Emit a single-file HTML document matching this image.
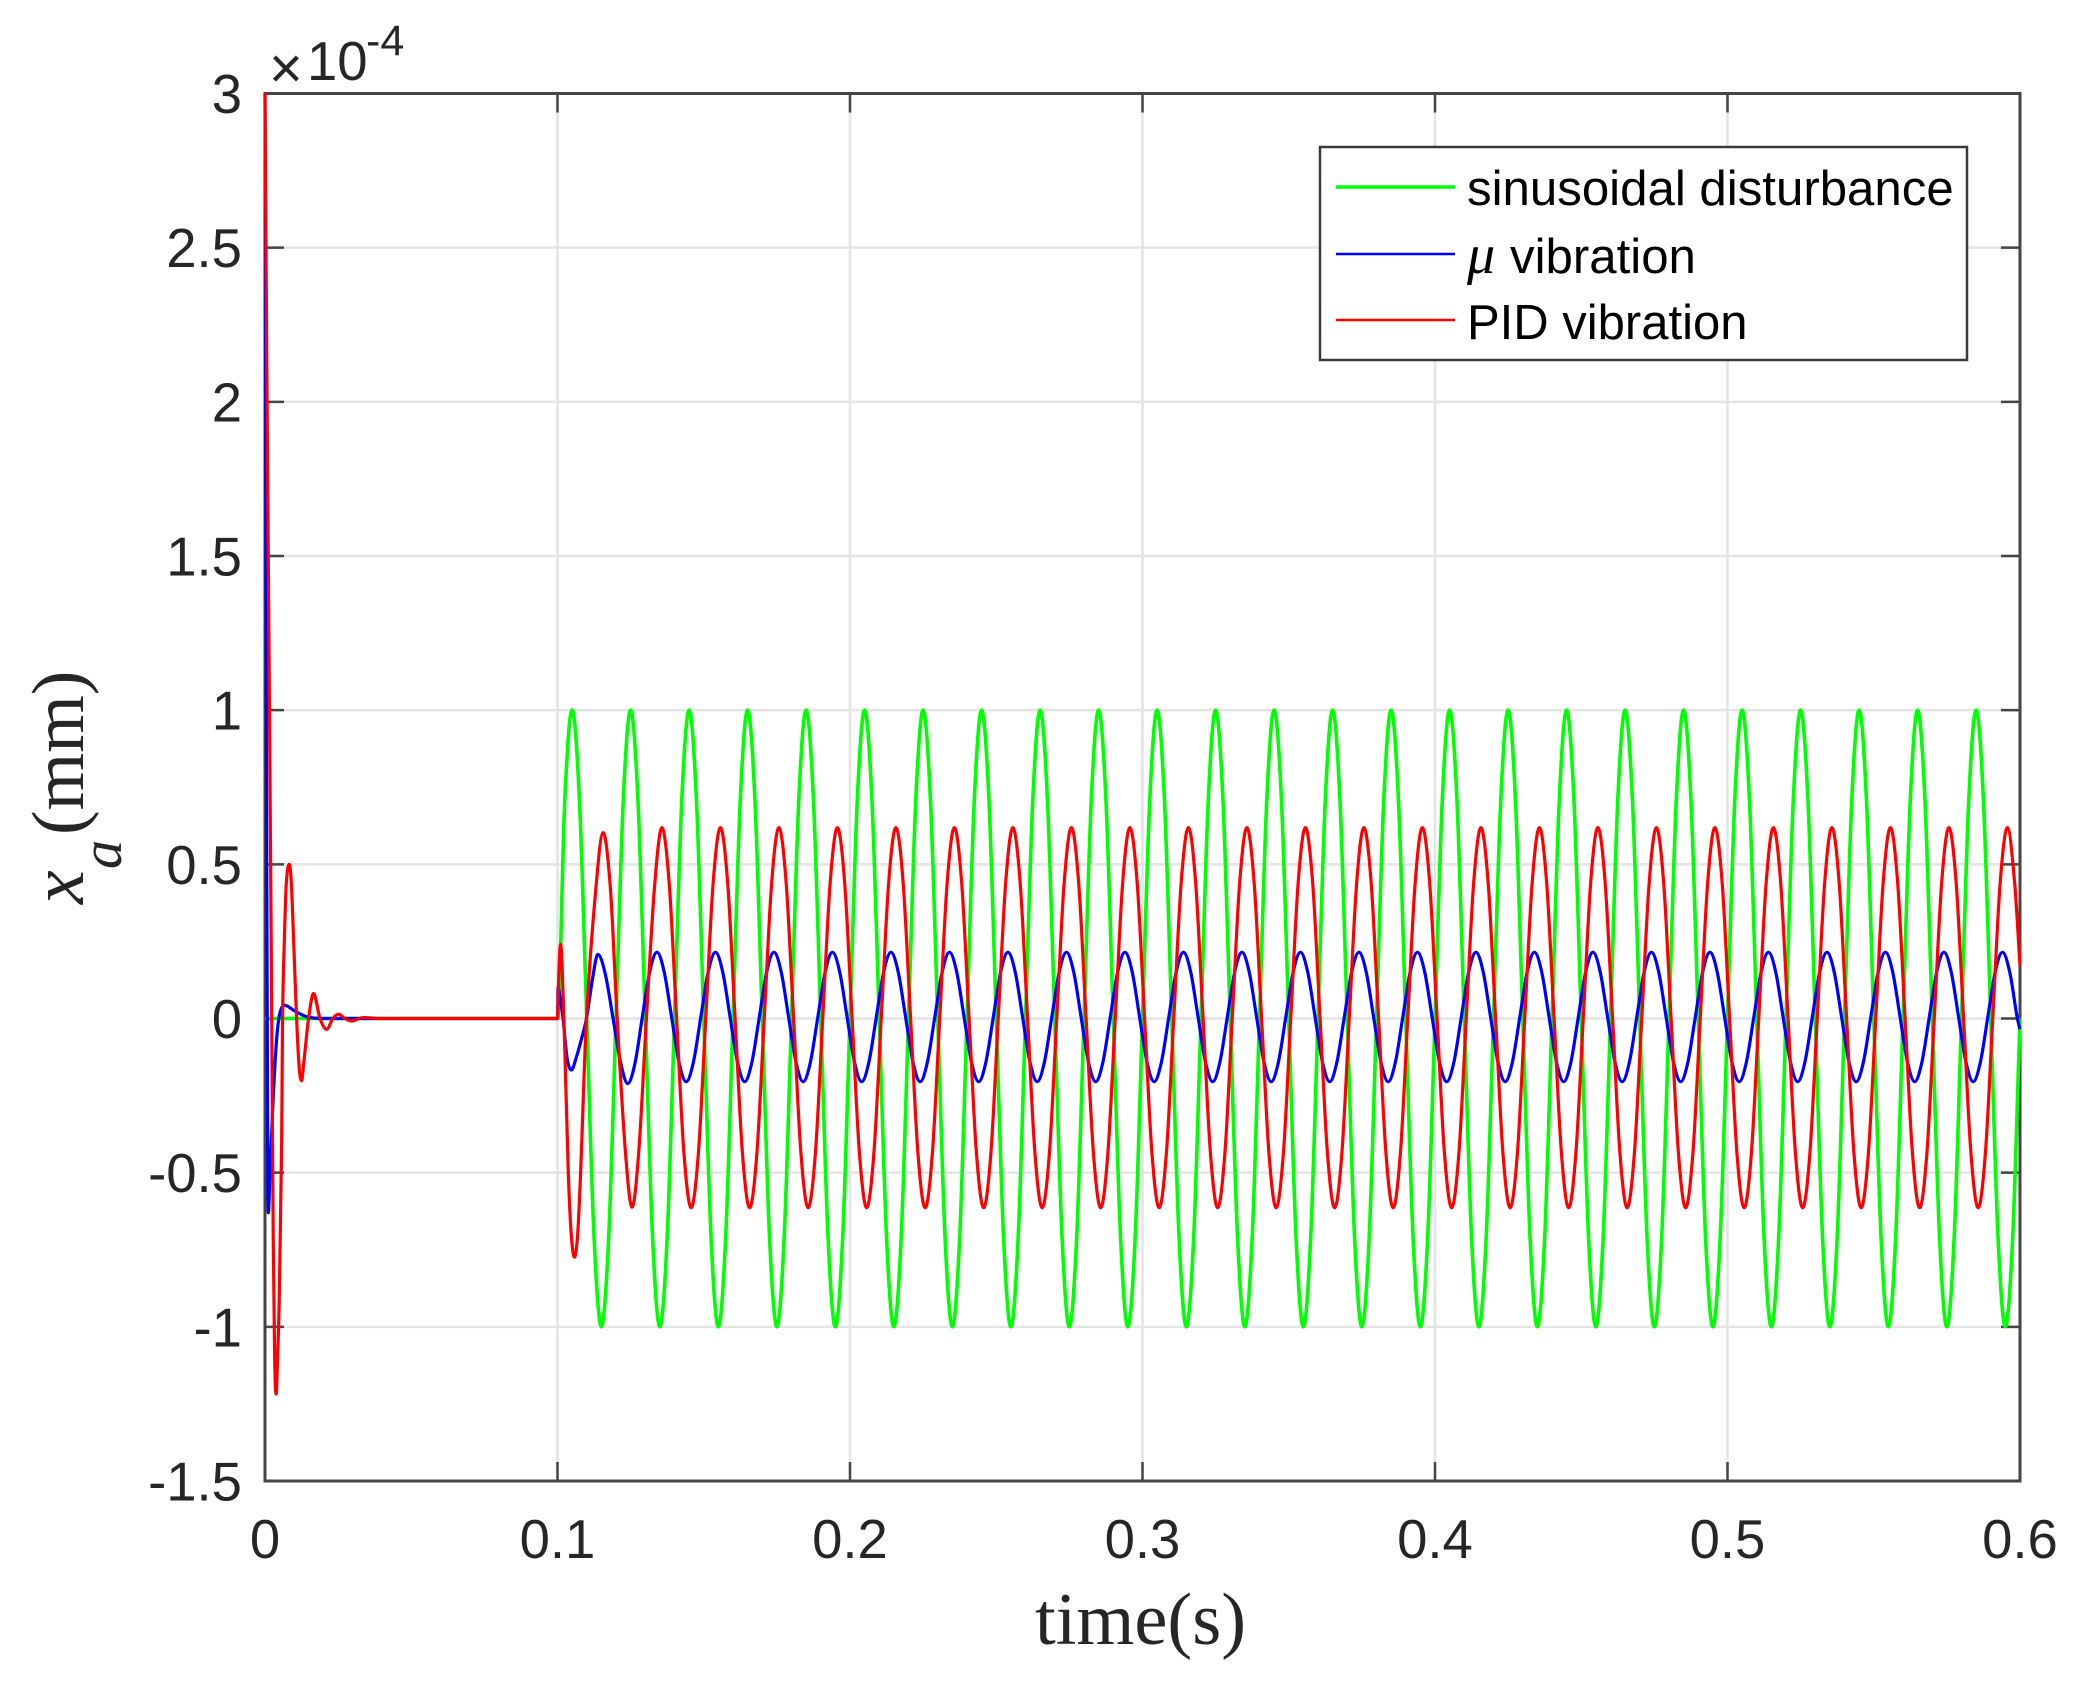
<!DOCTYPE html>
<html>
<head>
<meta charset="utf-8">
<title>Vibration response chart</title>
<style>
html,body{margin:0;padding:0;background:#fff;}
svg{display:block;}
text{font-family:"Liberation Sans",sans-serif;}
.serif{font-family:"Liberation Serif",serif;fill:#262626;}
</style>
</head>
<body>
<svg id="chart" xmlns="http://www.w3.org/2000/svg" width="2084" height="1688" viewBox="0 0 2084 1688">
<rect x="0" y="0" width="2084" height="1688" fill="#ffffff"/>
<g id="grid"></g>
<g id="axes"></g>
<g id="series"></g>
<text x="269" y="88" font-size="58" fill="#262626">×</text>
<text x="307" y="80" font-size="54.5" fill="#262626">10</text>
<text x="366" y="55" font-size="43" fill="#262626">-4</text>
<text class="serif" x="1035" y="1644" font-size="74.5">time(s)</text>
<g transform="translate(83,904) rotate(-90)">
<text class="serif" x="0" y="0" font-size="76" font-style="italic">x</text>
<text class="serif" x="35" y="38" font-size="58" font-style="italic">a</text>
<text class="serif" x="69" y="0" font-size="74">(mm)</text>
</g>
<g>
<rect x="1320" y="147" width="647" height="213" fill="#ffffff" stroke="#3a3a3a" stroke-width="2.5"/>
<line x1="1336" y1="187" x2="1455" y2="187" stroke="#00ff00" stroke-width="3.5"/>
<text x="1467" y="205" font-size="49.2" fill="#000000">sinusoidal disturbance</text>
<line x1="1336" y1="254" x2="1455" y2="254" stroke="#0000ff" stroke-width="2.6"/>
<text x="1467" y="273" font-size="56" fill="#000000" style="font-family:'Liberation Serif',serif;font-style:italic">μ</text>
<text x="1510" y="273" font-size="49.2" fill="#000000">vibration</text>
<line x1="1336" y1="320" x2="1455" y2="320" stroke="#ff0000" stroke-width="2.6"/>
<text x="1467" y="339" font-size="49" fill="#000000">PID vibration</text>
</g>
</svg>
<script>
const xTickValues = [0, 0.1, 0.2, 0.3, 0.4, 0.5, 0.6];
const xTickLabels = ["0", "0.1", "0.2", "0.3", "0.4", "0.5", "0.6"];
const yTickValues = [-1.5, -1, -0.5, 0, 0.5, 1, 1.5, 2, 2.5, 3];
const yTickLabels = ["-1.5", "-1", "-0.5", "0", "0.5", "1", "1.5", "2", "2.5", "3"];

const greenTimes = [0, 0.05,
0.1000,0.1025,0.1050,0.1075,0.1100,0.1125,0.1150,0.1175,
0.1200,0.1225,0.1250,0.1275,0.1300,0.1325,0.1350,0.1375,
0.1400,0.1425,0.1450,0.1475,0.1500,0.1525,0.1550,0.1575,
0.1600,0.1625,0.1650,0.1675,0.1700,0.1725,0.1750,0.1775,
0.1800,0.1825,0.1850,0.1875,0.1900,0.1925,0.1950,0.1975,
0.2000,0.2025,0.2050,0.2075,0.2100,0.2125,0.2150,0.2175,
0.2200,0.2225,0.2250,0.2275,0.2300,0.2325,0.2350,0.2375,
0.2400,0.2425,0.2450,0.2475,0.2500,0.2525,0.2550,0.2575,
0.2600,0.2625,0.2650,0.2675,0.2700,0.2725,0.2750,0.2775,
0.2800,0.2825,0.2850,0.2875,0.2900,0.2925,0.2950,0.2975,
0.3000,0.3025,0.3050,0.3075,0.3100,0.3125,0.3150,0.3175,
0.3200,0.3225,0.3250,0.3275,0.3300,0.3325,0.3350,0.3375,
0.3400,0.3425,0.3450,0.3475,0.3500,0.3525,0.3550,0.3575,
0.3600,0.3625,0.3650,0.3675,0.3700,0.3725,0.3750,0.3775,
0.3800,0.3825,0.3850,0.3875,0.3900,0.3925,0.3950,0.3975,
0.4000,0.4025,0.4050,0.4075,0.4100,0.4125,0.4150,0.4175,
0.4200,0.4225,0.4250,0.4275,0.4300,0.4325,0.4350,0.4375,
0.4400,0.4425,0.4450,0.4475,0.4500,0.4525,0.4550,0.4575,
0.4600,0.4625,0.4650,0.4675,0.4700,0.4725,0.4750,0.4775,
0.4800,0.4825,0.4850,0.4875,0.4900,0.4925,0.4950,0.4975,
0.5000,0.5025,0.5050,0.5075,0.5100,0.5125,0.5150,0.5175,
0.5200,0.5225,0.5250,0.5275,0.5300,0.5325,0.5350,0.5375,
0.5400,0.5425,0.5450,0.5475,0.5500,0.5525,0.5550,0.5575,
0.5600,0.5625,0.5650,0.5675,0.5700,0.5725,0.5750,0.5775,
0.5800,0.5825,0.5850,0.5875,0.5900,0.5925,0.5950,0.5975,
0.6000];
const greenValues = [0, 0,
0,.71,1,.71,0,-.71,-1,-.71,
0,.71,1,.71,0,-.71,-1,-.71,
0,.71,1,.71,0,-.71,-1,-.71,
0,.71,1,.71,0,-.71,-1,-.71,
0,.71,1,.71,0,-.71,-1,-.71,
0,.71,1,.71,0,-.71,-1,-.71,
0,.71,1,.71,0,-.71,-1,-.71,
0,.71,1,.71,0,-.71,-1,-.71,
0,.71,1,.71,0,-.71,-1,-.71,
0,.71,1,.71,0,-.71,-1,-.71,
0,.71,1,.71,0,-.71,-1,-.71,
0,.71,1,.71,0,-.71,-1,-.71,
0,.71,1,.71,0,-.71,-1,-.71,
0,.71,1,.71,0,-.71,-1,-.71,
0,.71,1,.71,0,-.71,-1,-.71,
0,.71,1,.71,0,-.71,-1,-.71,
0,.71,1,.71,0,-.71,-1,-.71,
0,.71,1,.71,0,-.71,-1,-.71,
0,.71,1,.71,0,-.71,-1,-.71,
0,.71,1,.71,0,-.71,-1,-.71,
0,.71,1,.71,0,-.71,-1,-.71,
0,.71,1,.71,0,-.71,-1,-.71,
0,.71,1,.71,0,-.71,-1,-.71,
0,.71,1,.71,0,-.71,-1,-.71,
0,.71,1,.71,0,-.71,-1,-.71,
0];

const blueTimes = [0,.0003,.0006,.0009,.00114,.0017,.00285,.004,.0051,.0068,.0097,.0142,.02,.05,.1,
.1002,.101,.1019,.1033,.1048,.1063,.1081,.1099,.112,.1138,.1163,.119,.1215,.124,.1265,.129,.1315,
.1340,.1365,.1390,.1415,.1440,.1465,.1490,.1515,
.1540,.1565,.1590,.1615,.1640,.1665,.1690,.1715,
.1740,.1765,.1790,.1815,.1840,.1865,.1890,.1915,
.1940,.1965,.1990,.2015,.2040,.2065,.2090,.2115,
.2140,.2165,.2190,.2215,.2240,.2265,.2290,.2315,
.2340,.2365,.2390,.2415,.2440,.2465,.2490,.2515,
.2540,.2565,.2590,.2615,.2640,.2665,.2690,.2715,
.2740,.2765,.2790,.2815,.2840,.2865,.2890,.2915,
.2940,.2965,.2990,.3015,.3040,.3065,.3090,.3115,
.3140,.3165,.3190,.3215,.3240,.3265,.3290,.3315,
.3340,.3365,.3390,.3415,.3440,.3465,.3490,.3515,
.3540,.3565,.3590,.3615,.3640,.3665,.3690,.3715,
.3740,.3765,.3790,.3815,.3840,.3865,.3890,.3915,
.3940,.3965,.3990,.4015,.4040,.4065,.4090,.4115,
.4140,.4165,.4190,.4215,.4240,.4265,.4290,.4315,
.4340,.4365,.4390,.4415,.4440,.4465,.4490,.4515,
.4540,.4565,.4590,.4615,.4640,.4665,.4690,.4715,
.4740,.4765,.4790,.4815,.4840,.4865,.4890,.4915,
.4940,.4965,.4990,.5015,.5040,.5065,.5090,.5115,
.5140,.5165,.5190,.5215,.5240,.5265,.5290,.5315,
.5340,.5365,.5390,.5415,.5440,.5465,.5490,.5515,
.5540,.5565,.5590,.5615,.5640,.5665,.5690,.5715,
.5740,.5765,.5790,.5815,.5840,.5865,.5890,.5915,
.5940,.5965,.5990,.6000];
const blueValues = [3,1.6,.5,-.35,-.63,-.5,-.248,-.064,.018,.043,.027,.006,0,0,0,
.1,.06,0,-.13,-.167,-.13,-.07,0,.13,.208,.146,0,-.14,-.211,-.145,.005,.15,
.215,.15,.005,-.14,-.205,-.14,.005,.15, /* .134 */
.215,.15,.005,-.14,-.205,-.14,.005,.15, /* .154 */
.215,.15,.005,-.14,-.205,-.14,.005,.15, /* .174 */
.215,.15,.005,-.14,-.205,-.14,.005,.15, /* .194 */
.215,.15,.005,-.14,-.205,-.14,.005,.15, /* .214 */
.215,.15,.005,-.14,-.205,-.14,.005,.15, /* .234 */
.215,.15,.005,-.14,-.205,-.14,.005,.15, /* .254 */
.215,.15,.005,-.14,-.205,-.14,.005,.15, /* .274 */
.215,.15,.005,-.14,-.205,-.14,.005,.15, /* .294 */
.215,.15,.005,-.14,-.205,-.14,.005,.15, /* .314 */
.215,.15,.005,-.14,-.205,-.14,.005,.15, /* .334 */
.215,.15,.005,-.14,-.205,-.14,.005,.15, /* .354 */
.215,.15,.005,-.14,-.205,-.14,.005,.15, /* .374 */
.215,.15,.005,-.14,-.205,-.14,.005,.15, /* .394 */
.215,.15,.005,-.14,-.205,-.14,.005,.15, /* .414 */
.215,.15,.005,-.14,-.205,-.14,.005,.15, /* .434 */
.215,.15,.005,-.14,-.205,-.14,.005,.15, /* .454 */
.215,.15,.005,-.14,-.205,-.14,.005,.15, /* .474 */
.215,.15,.005,-.14,-.205,-.14,.005,.15, /* .494 */
.215,.15,.005,-.14,-.205,-.14,.005,.15, /* .514 */
.215,.15,.005,-.14,-.205,-.14,.005,.15, /* .534 */
.215,.15,.005,-.14,-.205,-.14,.005,.15, /* .554 */
.215,.15,.005,-.14,-.205,-.14,.005,.15, /* .574 */
.215,.15,.005,-.035];

const redTimes = [0,.0006,.0017,.0023,.0028,.0033,.0038,.0043,.0049,.0057,.0060,.0066,.0073,.0083,.0090,.0098,.0108,.0117,.0125,.0133,.0149,.0166,.0188,.0211,.0232,.0251,.0273,.0296,.0336,.04,.07,.1,
.1004,.1008,.1011,.1015,.1022,.1037,.1047,.1058,.1069,.1079,.1099,.1131,.1156,.1181,.1204,.1232,.1255,.1278,.1304,.1332,
.1357,.1382,.1407,.1432,.1457,.1482,.1507,.1532,
.1557,.1582,.1607,.1632,.1657,.1682,.1707,.1732,
.1757,.1782,.1807,.1832,.1857,.1882,.1907,.1932,
.1957,.1982,.2007,.2032,.2057,.2082,.2107,.2132,
.2157,.2182,.2207,.2232,.2257,.2282,.2307,.2332,
.2357,.2382,.2407,.2432,.2457,.2482,.2507,.2532,
.2557,.2582,.2607,.2632,.2657,.2682,.2707,.2732,
.2757,.2782,.2807,.2832,.2857,.2882,.2907,.2932,
.2957,.2982,.3007,.3032,.3057,.3082,.3107,.3132,
.3157,.3182,.3207,.3232,.3257,.3282,.3307,.3332,
.3357,.3382,.3407,.3432,.3457,.3482,.3507,.3532,
.3557,.3582,.3607,.3632,.3657,.3682,.3707,.3732,
.3757,.3782,.3807,.3832,.3857,.3882,.3907,.3932,
.3957,.3982,.4007,.4032,.4057,.4082,.4107,.4132,
.4157,.4182,.4207,.4232,.4257,.4282,.4307,.4332,
.4357,.4382,.4407,.4432,.4457,.4482,.4507,.4532,
.4557,.4582,.4607,.4632,.4657,.4682,.4707,.4732,
.4757,.4782,.4807,.4832,.4857,.4882,.4907,.4932,
.4957,.4982,.5007,.5032,.5057,.5082,.5107,.5132,
.5157,.5182,.5207,.5232,.5257,.5282,.5307,.5332,
.5357,.5382,.5407,.5432,.5457,.5482,.5507,.5532,
.5557,.5582,.5607,.5632,.5657,.5682,.5707,.5732,
.5757,.5782,.5807,.5832,.5857,.5882,.5907,.5932,
.5957,.5982,.6000];
const redValues = [3,2.14,.8,0,-.7,-1.1,-1.218,-1.1,-.9,-.4,0,.25,.44,.5,.44,.25,0,-.16,-.202,-.14,0,.081,0,-.035,0,.014,0,-.008,.003,0,0,0,
.13,.22,.24,.19,0,-.5,-.7,-.774,-.7,-.5,0,.42,.603,.42,0,-.43,-.612,-.43,0,.43,
.619,.437,.003,-.433,-.614,-.433,.003,.437,
.619,.437,.003,-.433,-.614,-.433,.003,.437,
.619,.437,.003,-.433,-.614,-.433,.003,.437,
.619,.437,.003,-.433,-.614,-.433,.003,.437,
.619,.437,.003,-.433,-.614,-.433,.003,.437,
.619,.437,.003,-.433,-.614,-.433,.003,.437,
.619,.437,.003,-.433,-.614,-.433,.003,.437,
.619,.437,.003,-.433,-.614,-.433,.003,.437,
.619,.437,.003,-.433,-.614,-.433,.003,.437,
.619,.437,.003,-.433,-.614,-.433,.003,.437,
.619,.437,.003,-.433,-.614,-.433,.003,.437,
.619,.437,.003,-.433,-.614,-.433,.003,.437,
.619,.437,.003,-.433,-.614,-.433,.003,.437,
.619,.437,.003,-.433,-.614,-.433,.003,.437,
.619,.437,.003,-.433,-.614,-.433,.003,.437,
.619,.437,.003,-.433,-.614,-.433,.003,.437,
.619,.437,.003,-.433,-.614,-.433,.003,.437,
.619,.437,.003,-.433,-.614,-.433,.003,.437,
.619,.437,.003,-.433,-.614,-.433,.003,.437,
.619,.437,.003,-.433,-.614,-.433,.003,.437,
.619,.437,.003,-.433,-.614,-.433,.003,.437,
.619,.437,.003,-.433,-.614,-.433,.003,.437,
.619,.437,.003,-.433,-.614,-.433,.003,.437,
.619,.437,.17];

const plotLeft = 265, plotRight = 2020, plotTop = 93.5, plotBottom = 1481;
const xDomainMin = 0, xDomainMax = 0.6, yDomainMin = -1.5, yDomainMax = 3;
const tickLength = 19;
const SVGNS = "http://www.w3.org/2000/svg";

function xScale(t) {
  return plotLeft + (t - xDomainMin) / (xDomainMax - xDomainMin) * (plotRight - plotLeft);
}
function yScale(v) {
  return plotBottom - (v - yDomainMin) / (yDomainMax - yDomainMin) * (plotBottom - plotTop);
}
function makeLine(parent, x1, y1, x2, y2, color, width) {
  const line = document.createElementNS(SVGNS, "line");
  line.setAttribute("x1", x1);
  line.setAttribute("y1", y1);
  line.setAttribute("x2", x2);
  line.setAttribute("y2", y2);
  line.setAttribute("stroke", color);
  line.setAttribute("stroke-width", width);
  parent.appendChild(line);
  return line;
}
function makeLabel(parent, x, y, anchor, content) {
  const label = document.createElementNS(SVGNS, "text");
  label.setAttribute("x", x);
  label.setAttribute("y", y);
  label.setAttribute("text-anchor", anchor);
  label.setAttribute("font-size", "54.5");
  label.setAttribute("fill", "#262626");
  label.textContent = content;
  parent.appendChild(label);
  return label;
}
function smoothPath(times, values) {
  const n = Math.min(times.length, values.length);
  const px = times.slice(0, n).map(xScale);
  const py = values.slice(0, n).map(yScale);
  const slopes = [];
  for (let i = 0; i < n - 1; i++) {
    slopes.push((py[i + 1] - py[i]) / (px[i + 1] - px[i]));
  }
  const tangents = [];
  for (let i = 0; i < n; i++) {
    if (i === 0) { tangents.push(slopes[0]); continue; }
    if (i === n - 1) { tangents.push(slopes[n - 2]); continue; }
    const a = slopes[i - 1], b = slopes[i];
    if (a * b <= 0) { tangents.push(0); continue; }
    const central = (py[i + 1] - py[i - 1]) / (px[i + 1] - px[i - 1]);
    const limit = 3 * Math.min(Math.abs(a), Math.abs(b));
    tangents.push(Math.sign(central) * Math.min(Math.abs(central), limit));
  }
  let d = "M" + px[0].toFixed(2) + " " + py[0].toFixed(2);
  for (let i = 0; i < n - 1; i++) {
    const h = (px[i + 1] - px[i]) / 3;
    d += "C" + (px[i] + h).toFixed(2) + " " + (py[i] + tangents[i] * h).toFixed(2) + " "
      + (px[i + 1] - h).toFixed(2) + " " + (py[i + 1] - tangents[i + 1] * h).toFixed(2) + " "
      + px[i + 1].toFixed(2) + " " + py[i + 1].toFixed(2);
  }
  return d;
}
function makeSeries(parent, times, values, color, width) {
  const path = document.createElementNS(SVGNS, "path");
  path.setAttribute("d", smoothPath(times, values));
  path.setAttribute("fill", "none");
  path.setAttribute("stroke", color);
  path.setAttribute("stroke-width", width);
  path.setAttribute("stroke-linejoin", "round");
  parent.appendChild(path);
  return path;
}

const gridGroup = document.getElementById("grid");
const axesGroup = document.getElementById("axes");
const seriesGroup = document.getElementById("series");
const gridColor = "#e4e4e4", axisColor = "#454545";

xTickValues.forEach(function (value, i) {
  const x = xScale(value);
  if (value > xDomainMin && value < xDomainMax) {
    const gridLine = makeLine(gridGroup, x, plotTop, x, plotBottom, gridColor, 2.5);
    
    
  }
  const bottomTick = makeLine(axesGroup, x, plotBottom, x, plotBottom - tickLength, axisColor, 2.5);
  
  
  const topTick = makeLine(axesGroup, x, plotTop, x, plotTop + tickLength, axisColor, 2.5);
  
  
  const xLabel = makeLabel(axesGroup, x, 1558, "middle", xTickLabels[i]);
  
  
});

yTickValues.forEach(function (value, i) {
  const y = yScale(value);
  if (value > yDomainMin && value < yDomainMax) {
    const gridLine = makeLine(gridGroup, plotLeft, y, plotRight, y, gridColor, 2.5);
    
    
  }
  const leftTick = makeLine(axesGroup, plotLeft, y, plotLeft + tickLength, y, axisColor, 2.5);
  
  
  const rightTick = makeLine(axesGroup, plotRight, y, plotRight - tickLength, y, axisColor, 2.5);
  
  
  const yLabel = makeLabel(axesGroup, 242, y + 19.5, "end", yTickLabels[i]);
  
  
});

const frame = document.createElementNS(SVGNS, "rect");
frame.setAttribute("x", plotLeft);
frame.setAttribute("y", plotTop);
frame.setAttribute("width", plotRight - plotLeft);
frame.setAttribute("height", plotBottom - plotTop);
frame.setAttribute("fill", "none");
frame.setAttribute("stroke", axisColor);
frame.setAttribute("stroke-width", 3);


axesGroup.appendChild(frame);

const greenLine = makeSeries(seriesGroup, greenTimes, greenValues, "#00ff00", 3.6);


const blueLine = makeSeries(seriesGroup, blueTimes, blueValues, "#0000ff", 3.2);


const redLine = makeSeries(seriesGroup, redTimes, redValues, "#ff0000", 3.2);


</script>
</body>
</html>
